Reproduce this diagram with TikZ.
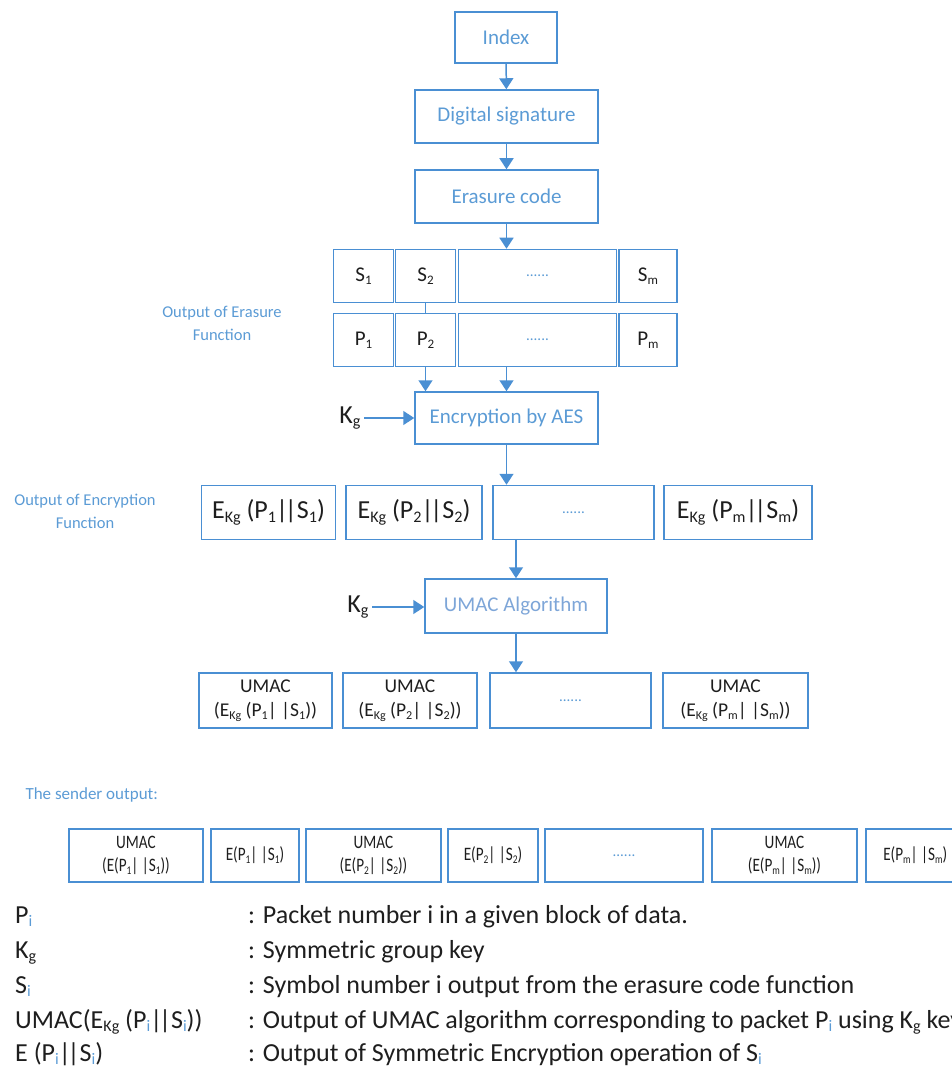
\documentclass[tikz,border=0pt]{standalone}
\usepackage{fontspec}
\usepackage{graphicx}
\setmainfont{Carlito}
\newfontfamily\narrowfont{Carlito}[FakeStretch=0.8]
\usetikzlibrary{arrows.meta}
\definecolor{boxblue}{HTML}{4A8FD3}
\definecolor{txtblue}{HTML}{5B9BD5}
\definecolor{paleblue}{HTML}{7EA6D8}
\definecolor{ink}{HTML}{1E1E1E}
% small lowered index, and a blue index i for the legend
\newcommand{\sbs}[1]{\raisebox{-0.3ex}{\scalebox{0.62}{#1}}}
\newcommand{\ib}{\sbs{\textcolor{txtblue}{i}}}
% a pair of close vertical bars
\newcommand{\dbar}{|\kern-0.12em|}
\begin{document}
\begin{tikzpicture}[x=1pt,y=-1pt,
  box/.style={draw=boxblue,line width=1.5pt,inner sep=0pt,align=center,text=ink,font=\fontsize{21}{23}\selectfont},
  stepbox/.style={box,text=txtblue},
  cellbox/.style={box,minimum height=53},
  dots/.style={text=txtblue,font=\fontsize{15}{17}\selectfont},
  encbox/.style={box,minimum height=54,font=\fontsize{26}{28}\selectfont},
  macbox/.style={box,minimum height=55,font=\fontsize{19.5}{24}\selectfont},
  outbox/.style={box,minimum height=53,font=\narrowfont\fontsize{19}{23}\selectfont},
  flow/.style={draw=boxblue,line width=1.5pt,-{Triangle[width=14pt,length=11pt]},fill=boxblue},
  link/.style={draw=boxblue,line width=1.5pt},
  note/.style={text=txtblue,align=center,font=\fontsize{16.5}{23}\selectfont},
  keylabel/.style={text=ink,font=\fontsize{26}{28}\selectfont},
  legend/.style={anchor=base west,inner sep=0pt,text=ink,font=\fontsize{26}{28}\selectfont}]
\useasboundingbox (0,0) rectangle (952,1067);
\clip (0,0) rectangle (952,1067);

% processing chain
\node[stepbox,minimum width=102,minimum height=51] (idx) at (506,37.5) {Index};
\node[stepbox,minimum width=183,minimum height=53] (ds) at (506.5,116.5) {Digital signature};
\node[stepbox,minimum width=183,minimum height=53] (ec) at (506.5,196.5) {Erasure code};

% erasure output: symbols and packets
\node[cellbox,minimum width=60] (s1) at (363.5,276) {S\sbs{1}};
\node[cellbox,minimum width=60] (s2) at (425.5,276) {S\sbs{2}};
\node[cellbox,minimum width=158,dots] (sd) at (537.5,276) {......};
\node[cellbox,minimum width=58] (sm) at (648,276) {S\sbs{m}};
\node[cellbox,minimum width=60] (p1) at (363.5,340) {P\sbs{1}};
\node[cellbox,minimum width=60] (p2) at (425.5,340) {P\sbs{2}};
\node[cellbox,minimum width=158,dots] (pd) at (537.5,340) {......};
\node[cellbox,minimum width=58] (pm) at (648,340) {P\sbs{m}};
\node[note] (lerase) at (222,323.5) {Output of Erasure\\Function};

% encryption
\node[stepbox,minimum width=183,minimum height=52] (enc) at (506.5,418) {Encryption by AES};
\node[keylabel] (kg1) at (350,418) {K\sbs{g}};

\node[encbox,minimum width=134] (e1) at (268.5,512.5) {E\sbs{Kg} (P\sbs{1}\dbar S\sbs{1})};
\node[encbox,minimum width=136] (e2) at (414,512.5) {E\sbs{Kg} (P\sbs{2}\dbar S\sbs{2})};
\node[encbox,minimum width=161,dots] (ed) at (573.5,512.5) {......};
\node[encbox,minimum width=148] (em) at (738,512.5) {E\sbs{Kg} (P\sbs{m}\dbar S\sbs{m})};
\node[note] (lenc) at (85,511.5) {Output of Encryption\\Function};

% UMAC
\node[box,text=paleblue,minimum width=182,minimum height=54] (umac) at (516,606) {UMAC Algorithm};
\node[keylabel] (kg2) at (358,607) {K\sbs{g}};

\node[macbox,minimum width=133] (u1) at (265.5,700.5) {UMAC\\(E\sbs{Kg} (P\sbs{1}| |S\sbs{1}))};
\node[macbox,minimum width=134] (u2) at (410,700.5) {UMAC\\(E\sbs{Kg} (P\sbs{2}| |S\sbs{2}))};
\node[macbox,minimum width=161,dots] (ud) at (570.5,700.5) {......};
\node[macbox,minimum width=145] (um) at (735.5,700.5) {UMAC\\(E\sbs{Kg} (P\sbs{m}| |S\sbs{m}))};

% sender output
\node[note,anchor=west,font=\fontsize{17}{19}\selectfont] (lsend) at (22,795) {The sender output:};
\node[outbox,minimum width=134] (o1) at (136,855.5) {UMAC\\(E(P\sbs{1}| |S\sbs{1}))};
\node[outbox,minimum width=88] (o2) at (255,855.5) {E(P\sbs{1}| |S\sbs{1})};
\node[outbox,minimum width=135] (o3) at (373.5,855.5) {UMAC\\(E(P\sbs{2}| |S\sbs{2}))};
\node[outbox,minimum width=90] (o4) at (493,855.5) {E(P\sbs{2}| |S\sbs{2})};
\node[outbox,minimum width=158,dots] (o5) at (624,855.5) {......};
\node[outbox,minimum width=145] (o6) at (784.5,855.5) {UMAC\\(E(P\sbs{m}| |S\sbs{m}))};
\node[outbox,minimum width=120,anchor=west] (o7) at (865,855.5) {E(P\sbs{m}| |S\sbs{m})\hspace{21pt}};

% connectors
\draw[flow] (idx) -- (ds);
\draw[flow] (ds) -- (ec);
\draw[flow] (ec.south) -- (ec.south |- sd.north);
\draw[link] (s2) -- (p2);
\draw[flow] (p2.south) -- (p2.south |- enc.north);
\draw[flow] (ec.south |- pd.south) -- (ec.south |- enc.north);
\draw[flow] (kg1.east) -- (kg1.east -| enc.west);
\draw[flow] (enc.south) -- (enc.south |- ed.north);
\draw[flow] (umac.north |- ed.south) -- (umac.north);
\draw[flow] (kg2.east) -- (kg2.east -| umac.west);
\draw[flow] (umac.south) -- (umac.south |- ud.north);

% legend
\node[legend] (k1) at (15,923) {P\ib};
\node[legend] (k2) at (15,958) {K\sbs{g}};
\node[legend] (k3) at (15,993) {S\ib};
\node[legend] (k4) at (15,1028) {UMAC(E\sbs{Kg} (P\ib\dbar S\ib))};
\node[legend] (k5) at (15,1061) {E (P\ib\dbar S\ib)};
\node[legend] (d1) at (248,923) {: Packet number i in a given block of data.};
\node[legend] (d2) at (248,958) {: Symmetric group key};
\node[legend] (d3) at (248,993) {: Symbol number i output from the erasure code function};
\node[legend] (d4) at (248,1028) {: Output of UMAC algorithm corresponding to packet P\ib{} using K\sbs{g} key};
\node[legend] (d5) at (248,1061) {: Output of Symmetric Encryption operation of S\ib};
\end{tikzpicture}
\end{document}
